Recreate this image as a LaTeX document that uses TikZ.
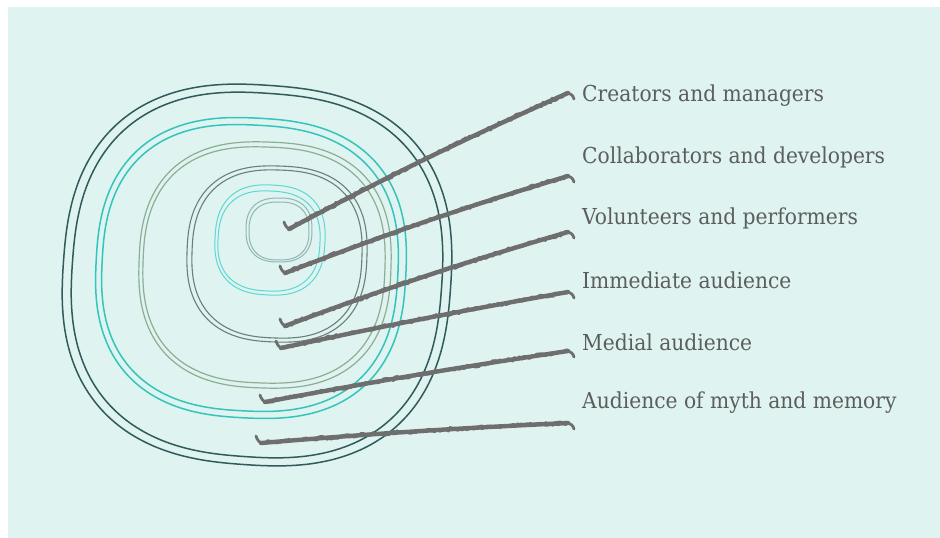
\documentclass[tikz,border=0pt]{standalone}
\usepackage{fontspec}
\setmainfont{DejaVu Serif}[FakeStretch=0.92]
\usetikzlibrary{calc,decorations.pathmorphing}

\definecolor{bg}{HTML}{DFF3F1}
\definecolor{ringA}{HTML}{2F5B5A}
\definecolor{ringB}{HTML}{33C4BB}
\definecolor{ringC}{HTML}{8CAE92}
\definecolor{ringD}{HTML}{6A7E7B}
\definecolor{ringE}{HTML}{5CD8D3}
\definecolor{ringF}{HTML}{92B6B3}
\definecolor{stroke}{HTML}{6E6E6E}
\definecolor{txt}{HTML}{5C5E5E}

% rounded-square ring: centre x, centre y, half width, half height, colour, width, tilt
\newcommand\squircle[7]{%
  \draw[#5, line width=#6, rotate around={#7:(#1,#2)}]
    plot[domain=1.25:358.75, samples=144, smooth cycle, variable=\t]
    ({#1+#3*cos(\t)/pow(pow(abs(cos(\t)),2.5)+pow(abs(sin(\t)),2.5),0.4)},
     {#2+#4*sin(\t)/pow(pow(abs(cos(\t)),2.5)+pow(abs(sin(\t)),2.5),0.4)});
}

\tikzset{
  lab/.style={anchor=west, inner sep=0pt, text=txt, font=\fontsize{22}{26}\selectfont},
  conn/.style={draw=stroke, line width=4.4pt, line cap=round, line join=round,
    postaction={draw=stroke, line width=2.8pt, decorate,
      decoration={random steps, segment length=2pt, amplitude=1.8pt}}},
  hook/.style={draw=stroke, line width=2.8pt, line cap=round},
}

\begin{document}
\begin{tikzpicture}[x=1pt, y=-1pt]
\pgfmathsetseed{7}
\useasboundingbox (0,0) rectangle (940,538);
\fill[white] (0,0) rectangle (940,538);
\fill[bg] (8,7) rectangle (940,538);

% nested rings, outermost first
\squircle{257}{275}{194}{190}{ringA}{1.5pt}{-4}
\squircle{257}{275}{185}{182}{ringA}{1.5pt}{-4}
\squircle{251}{268}{155}{150}{ringB}{1.5pt}{-3}
\squircle{250}{268}{148}{143}{ringB}{1.5pt}{-3}
\squircle{265}{265}{126}{123}{ringC}{1.2pt}{-2}
\squircle{264}{265}{121}{118}{ringC}{1.2pt}{-2}
\squircle{277}{254}{90}{88}{ringD}{1.1pt}{-2}
\squircle{277}{254}{85}{84}{ringD}{1.1pt}{-2}
\squircle{270}{240}{55}{55}{ringE}{1pt}{-3}
\squircle{269}{241}{51}{50}{ringE}{1pt}{-3}
\squircle{279}{230}{33}{32}{ringF}{1pt}{0}
\squircle{279}{231}{30}{29}{ringF}{1pt}{0}

% labels
\node[lab] (l1) at (582,96)  {Creators and managers};
\node[lab] (l2) at (582,157) {Collaborators and developers};
\node[lab] (l3) at (582,218) {Volunteers and performers};
\node[lab] (l4) at (582,280) {Immediate audience};
\node[lab] (l5) at (582,342) {Medial audience};
\node[lab] (l6) at (582,403) {Audience of myth and memory};

% stroke end points
\coordinate (s1) at (289,229); \coordinate (e1) at (568,93);
\coordinate (s2) at (285,273); \coordinate (e2) at (568,176);
\coordinate (s3) at (285,326); \coordinate (e3) at (568,232);
\coordinate (s4) at (281,348); \coordinate (e4) at (568,292);
\coordinate (s5) at (265,402); \coordinate (e5) at (568,351);
\coordinate (s6) at (261,443); \coordinate (e6) at (568,423);

% brush strokes from each ring to its label
\foreach \i/\b in {1/2,2/2,3/2,4/1,5/1,6/1}{
  \draw[conn] (s\i) to[bend left=\b] (e\i);
  \draw[hook] ($(s\i)+(-5,-7)$) to[out=-75,in=190] ($(s\i)+(3,0)$);
  \draw[hook] ($(e\i)+(-3,0)$) to[out=5,in=100] ($(e\i)+(6,6)$);
}
\end{tikzpicture}
\end{document}
